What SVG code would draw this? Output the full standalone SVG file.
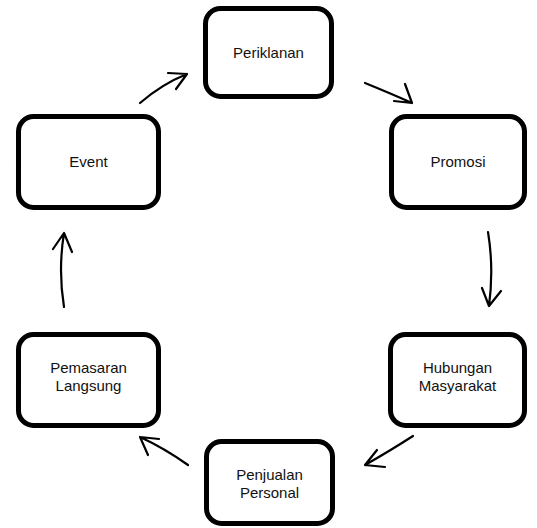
<svg xmlns="http://www.w3.org/2000/svg" width="537" height="528" viewBox="0 0 537 528">
<style>
.box{fill:#fff;stroke:#000;stroke-width:5}
.t{font-family:"Liberation Sans",Arial,sans-serif;font-size:15px;fill:#111;text-anchor:middle}
.c{fill:none;stroke:#000;stroke-width:2.2;stroke-linecap:round;stroke-linejoin:round}
</style>
<rect width="537" height="528" fill="#fff"/>
<g id="periklanan"><rect class="box" x="205.5" y="8.5" width="126" height="88" rx="15"/><text class="t" x="268.5" y="58">Periklanan</text></g>
<g id="promosi"><rect class="box" x="391.5" y="116.5" width="133" height="91" rx="15"/><text class="t" x="458" y="167">Promosi</text></g>
<g id="hubungan"><rect class="box" x="390.5" y="334.5" width="134" height="91" rx="15"/><text class="t" x="457.5" y="373">Hubungan</text><text class="t" x="457.5" y="391">Masyarakat</text></g>
<g id="penjualan"><rect class="box" x="206.5" y="441.5" width="126" height="82" rx="15"/><text class="t" x="269.5" y="480">Penjualan</text><text class="t" x="269.5" y="498">Personal</text></g>
<g id="pemasaran"><rect class="box" x="18.5" y="334.5" width="140" height="91" rx="15"/><text class="t" x="88.5" y="373">Pemasaran</text><text class="t" x="88.5" y="391">Langsung</text></g>
<g id="event"><rect class="box" x="18.5" y="116.5" width="140" height="91" rx="15"/><text class="t" x="88.5" y="167">Event</text></g>
<g id="connectors">
<path class="c" d="M140 103 Q162 84 187 74 M168 73 L187 74 L176 89"/>
<path class="c" d="M365 83 Q392 94 412 103 M405 84 L412 103 L394 101"/>
<path class="c" d="M488 232 Q494 268 489 306 M482 288 L489 306 L501 291"/>
<path class="c" d="M413 436 Q388 452 365 465 M377 450 L365 465 L385 467"/>
<path class="c" d="M188 465 Q164 448 140 437 M159 439 L140 437 L148 455"/>
<path class="c" d="M64 307 Q58 270 64 233 M53 249 L64 233 L72 252"/>
</g>
</svg>
